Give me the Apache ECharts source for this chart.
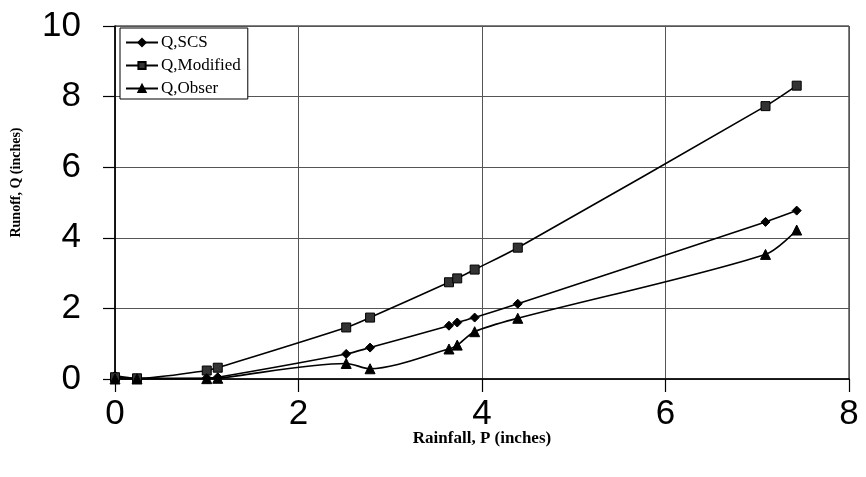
<!DOCTYPE html>
<html>
<head>
<meta charset="utf-8">
<script src="https://cdn.jsdelivr.net/npm/echarts@6/dist/echarts.min.js"></script>
<style>
  html, body { margin: 0; padding: 0; background: #fff; }
  #chart { width: 866px; height: 477px; }
</style>
</head>
<body>
<div id="chart"></div>
<script>
// Rainfall depth P (inches) for each storm event
const rainfall = [0, 0.24, 1.0, 1.12, 2.52, 2.78, 3.64, 3.73, 3.92, 4.39, 7.09, 7.43];
// Runoff Q (inches): SCS curve number method
const qSCS = [0.1, 0.02, 0.03, 0.05, 0.71, 0.89, 1.51, 1.6, 1.74, 2.13, 4.45, 4.77];
// Runoff Q (inches): modified method
const qModified = [0.05, 0.02, 0.24, 0.32, 1.46, 1.74, 2.74, 2.85, 3.1, 3.72, 7.73, 8.31];
// Runoff Q (inches): observed
const qObser = [0, 0, 0.01, 0.02, 0.44, 0.29, 0.85, 0.96, 1.34, 1.72, 3.53, 4.22];

const xTicks = [0, 2, 4, 6, 8];
const yTicks = [0, 2, 4, 6, 8, 10];

const pairs = (ys) => rainfall.map((x, i) => [x, ys[i]]);

const serif = '"Liberation Serif", "Times New Roman", serif';
const sans = '"Liberation Sans", Arial, sans-serif';

function lineSeries(name, ys, symbol, size, fill) {
  return {
    name: name,
    type: 'line',
    data: pairs(ys),
    smooth: 0.3,
    symbol: symbol,
    symbolSize: size,
    showAllSymbol: true,
    lineStyle: { color: '#000', width: 1.6 },
    itemStyle: { color: fill, borderColor: '#000', borderWidth: 1 },
    emphasis: { disabled: true },
    animation: false
  };
}

const chart = echarts.init(document.getElementById('chart'), null, { renderer: 'canvas' });
chart.setOption({
  backgroundColor: '#fff',
  animation: false,
  grid: {
    left: 115, right: 17, top: 26, bottom: 98,
    show: true, borderColor: '#000', borderWidth: 1, backgroundColor: 'transparent'
  },
  legend: {
    orient: 'vertical',
    left: 120, top: 28,
    data: ['Q,SCS', 'Q,Modified', 'Q,Obser'],
    itemWidth: 32, itemHeight: 9, itemGap: 6,
    padding: [6, 7, 2, 5],
    backgroundColor: '#fff',
    borderColor: '#000', borderWidth: 1, borderRadius: 0,
    textStyle: { fontFamily: serif, fontSize: 17, color: '#000', padding: [0, 0, 0, -2] },
    selectedMode: false
  },
  xAxis: {
    type: 'value',
    min: xTicks[0], max: xTicks[xTicks.length - 1], interval: 2,
    name: 'Rainfall, P (inches)',
    nameLocation: 'middle', nameGap: 51,
    nameMoveOverlap: false,
    nameTextStyle: { fontFamily: serif, fontWeight: 'bold', fontSize: 17, color: '#000' },
    axisLine: { show: true, onZero: false, lineStyle: { color: '#000', width: 1.6 } },
    axisTick: { show: true, inside: false, length: 13, lineStyle: { color: '#000', width: 1.2 } },
    axisLabel: { margin: 18, fontFamily: sans, fontSize: 35, color: '#000' },
    splitLine: { show: true, lineStyle: { color: '#555', width: 1 } }
  },
  yAxis: {
    type: 'value',
    min: yTicks[0], max: yTicks[yTicks.length - 1], interval: 2,
    name: 'Runoff, Q (inches)',
    nameLocation: 'middle', nameGap: 92,
    nameMoveOverlap: false,
    nameTextStyle: { fontFamily: serif, fontWeight: 'bold', fontSize: 14, color: '#000', padding: [0, 0, 0, 40] },
    axisLine: { show: true, onZero: false, lineStyle: { color: '#000', width: 1.6 } },
    axisTick: { show: true, inside: false, length: 12, lineStyle: { color: '#000', width: 1.2 } },
    axisLabel: { margin: 34, fontFamily: sans, fontSize: 35, color: '#000' },
    splitLine: { show: true, lineStyle: { color: '#555', width: 1 } }
  },
  series: [
    lineSeries('Q,SCS', qSCS, 'diamond', 9, '#000'),
    lineSeries('Q,Modified', qModified, 'rect', 9, '#333'),
    lineSeries('Q,Obser', qObser, 'triangle', 10, '#000')
  ]
});
</script>
</body>
</html>
